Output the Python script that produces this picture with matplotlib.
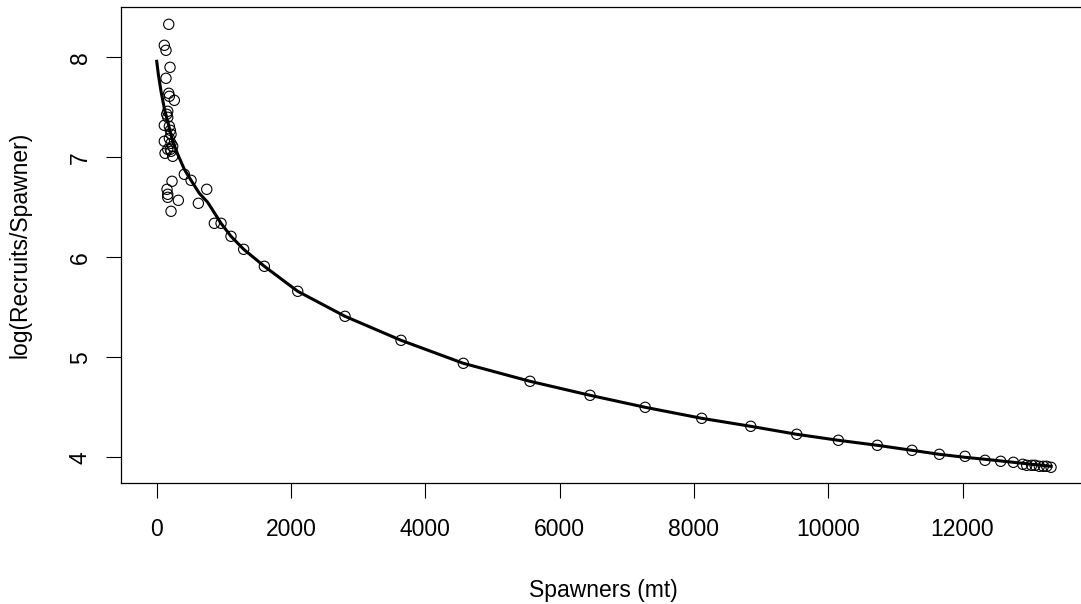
import matplotlib
matplotlib.use("Agg")
import matplotlib.pyplot as plt

plt.rcParams["font.family"] = ["Liberation Sans", "DejaVu Sans"]

# observed points: spawners (mt) and log(recruits/spawner)
spawners = [179, 113, 138, 198, 138, 179, 188, 262, 164, 149, 164, 113, 188, 203,
            213, 188, 113, 213, 238, 164, 203, 124, 213, 238, 411, 511, 228, 745,
            153, 164, 164, 322, 620, 213, 858, 958, 1106, 1295, 1603, 2100, 2804,
            3638, 4566, 5559, 6453, 7274, 8116, 8846, 9531, 10151, 10731, 11248,
            11655, 12037, 12335, 12569, 12757, 12897, 12956, 13030, 13080, 13144,
            13204, 13254, 13318]
log_rs = [8.33, 8.12, 8.07, 7.90, 7.79, 7.64, 7.61, 7.57, 7.46, 7.43, 7.40, 7.32,
          7.31, 7.27, 7.23, 7.19, 7.16, 7.14, 7.11, 7.08, 7.08, 7.04, 7.06, 7.01,
          6.83, 6.77, 6.76, 6.68, 6.68, 6.63, 6.60, 6.57, 6.54, 6.46, 6.34, 6.34,
          6.21, 6.08, 5.91, 5.66, 5.41, 5.17, 4.94, 4.76, 4.62, 4.50, 4.39, 4.31,
          4.23, 4.17, 4.12, 4.07, 4.03, 4.01, 3.97, 3.96, 3.95, 3.93, 3.92, 3.92,
          3.92, 3.91, 3.91, 3.91, 3.90]

# fitted curve
fit_s = [0, 24, 64, 113, 173, 238, 313, 411, 511, 634, 759, 958, 1106, 1295, 1603,
         2100, 2804, 3638, 4566, 5559, 6453, 7274, 8116, 8846, 9531, 10151, 10731,
         11248, 11655, 12037, 12340, 12757, 13318]
fit_y = [7.96, 7.83, 7.66, 7.49, 7.33, 7.16, 7.03, 6.88, 6.77, 6.64, 6.55, 6.34, 6.21,
         6.08, 5.91, 5.66, 5.41, 5.17, 4.94, 4.76, 4.62, 4.50, 4.39, 4.31, 4.23, 4.17,
         4.12, 4.07, 4.03, 4.00, 3.98, 3.95, 3.91]

fig = plt.figure(figsize=(10.81, 6.04), dpi=100)
ax = fig.add_axes([121 / 1081, 1 - 483 / 604, 964 / 1081, 476 / 604])

ax.scatter(spawners, log_rs, s=7.4 ** 2, facecolors="none", edgecolors="black",
           linewidths=0.8, zorder=3)
ax.plot(fit_s, fit_y, color="black", lw=2.2, zorder=2)

ax.set_xlim(-532, 13824)
ax.set_ylim(3.743, 8.503)
ax.set_xticks([0, 2000, 4000, 6000, 8000, 10000, 12000])
ax.set_yticks([4, 5, 6, 7, 8])
ax.tick_params(axis="both", labelsize=16.5, length=11, width=0.8, color="black")
ax.tick_params(axis="x", pad=14)
ax.tick_params(axis="y", pad=10)
for lab in ax.get_yticklabels():
    lab.set_rotation(90)
    lab.set_va("center")
for sp in ax.spines.values():
    sp.set_linewidth(0.9)

fig.text(603 / 1081, 1 - 590 / 604, "Spawners (mt)", ha="center", va="center", fontsize=16.5)
fig.text(20 / 1081, 1 - 245 / 604, "log(Recruits/Spawner)", ha="center", va="center",
         rotation=90, fontsize=16.5)

fig.savefig("out.png", dpi=100)
